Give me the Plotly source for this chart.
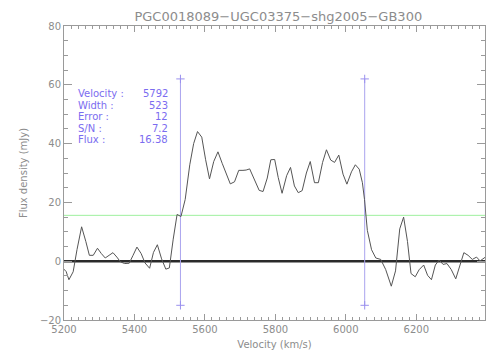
import plotly.graph_objects as go

# spectrum (velocity in km/s, flux in mJy)
velocity = [
    5197, 5206, 5214, 5226, 5237, 5250, 5262, 5272, 5283, 5295, 5306, 5317,
    5328, 5339, 5350, 5360, 5372, 5385, 5396, 5407, 5419, 5430, 5443, 5454,
    5465, 5477, 5489, 5499, 5510, 5521, 5532, 5544, 5557, 5568, 5579, 5591,
    5602, 5613, 5625, 5637, 5649, 5660, 5672, 5684, 5696, 5708, 5717, 5727,
    5741, 5754, 5765, 5777, 5787, 5798, 5808, 5819, 5832, 5843, 5854, 5865,
    5876, 5888, 5899, 5911, 5922, 5934, 5945, 5957, 5968, 5980, 5992, 6003,
    6016, 6027, 6038, 6047, 6053, 6061, 6073, 6085, 6099, 6113, 6129, 6141,
    6153, 6164, 6175, 6185, 6197, 6208, 6221, 6232, 6243, 6254, 6265, 6276,
    6287, 6299, 6312, 6324, 6335, 6347, 6359, 6371, 6381, 6395,
]
flux = [
    -2.4, -3.5, -6.3, -3.6, 4.0, 11.7, 6.7, 2.0, 2.0, 4.4, 2.6, 1.1,
    2.0, 2.9, 1.4, -0.2, -0.8, -0.7, 2.0, 4.8, 2.6, -0.6, -2.4, 3.0,
    5.6, 0.8, -2.7, -2.3, 7.5, 15.9, 15.2, 21.0, 32.8, 40.0, 44.1, 42.2,
    34.5, 28.0, 33.9, 37.2, 33.3, 29.8, 26.3, 27.0, 30.9, 30.9, 31.0, 31.4,
    27.5, 24.1, 23.7, 28.3, 34.5, 34.6, 28.5, 23.1, 29.1, 31.9, 25.6, 23.3,
    24.0, 30.0, 33.9, 26.7, 26.7, 33.6, 37.9, 34.4, 33.6, 36.1, 29.6, 26.2,
    30.4, 32.8, 31.3, 26.7, 21.0, 10.5, 3.9, 1.1, 0.6, -2.8, -8.5, -3.3,
    11.0, 15.0, 6.7, -4.2, -5.3, -2.9, -1.3, -4.8, -6.3, -1.3, 0.4, -1.1,
    -0.8, -2.8, -6.0, -1.1, 2.9, 2.0, 0.6, 1.4, 0.1, 1.3,
]

title = 'PGC0018089\u2212UGC03375\u2212shg2005\u2212GB300'
stat_labels = ['Velocity :', 'Width :', 'Error :', 'S/N :', 'Flux :']
stat_values = ['5792', '523', '12', '7.2', '16.38']

v_center = 5792
v_width = 523
level = 15.6
marker_span = [-15, 62]

x_range = [5200, 6395]
y_range = [-20, 80]

grey = '#8c8c8c'
blue = '#7b6cf0'
font = 'DejaVu Sans'

fig = go.Figure()

# reference level
fig.add_trace(go.Scatter(
    x=x_range, y=[level, level], mode='lines',
    line=dict(color='#9ef09e', width=1), hoverinfo='skip',
))

# zero line
fig.add_trace(go.Scatter(
    x=x_range, y=[0, 0], mode='lines',
    line=dict(color='#2a2a2a', width=2.5), hoverinfo='skip',
))

# line edges at velocity +/- width/2
for edge in (v_center - v_width / 2, v_center + v_width / 2):
    fig.add_trace(go.Scatter(
        x=[edge, edge], y=marker_span, mode='lines+markers',
        line=dict(color='#a9a3ee', width=1),
        marker=dict(symbol='cross-thin', size=6,
                    line=dict(color='#9a90ee', width=1)),
        hoverinfo='skip',
    ))

fig.add_trace(go.Scatter(
    x=velocity, y=flux, mode='lines',
    line=dict(color='#555555', width=1),
))

ys = [0.771, 0.731, 0.691, 0.653, 0.615]
for lab, val, y in zip(stat_labels, stat_values, ys):
    fig.add_annotation(x=0.029, y=y, xref='paper', yref='paper', text=lab,
                       showarrow=False, xanchor='left', yanchor='middle',
                       font=dict(color=blue, size=10, family=font))
    fig.add_annotation(x=0.252, y=y, xref='paper', yref='paper', text=val,
                       showarrow=False, xanchor='right', yanchor='middle',
                       font=dict(color=blue, size=10, family=font))

axis = dict(
    showline=True, linecolor='#9a9a9a', linewidth=1, mirror='ticks',
    ticks='inside', tickcolor='#9a9a9a', showgrid=False, zeroline=False,
    tickfont=dict(color=grey, size=10, family=font),
)

# page body adds an 8px offset, so the figure is drawn 8px smaller
fig.update_layout(
    width=496, height=352,
    margin=dict(l=56, r=19, t=12, b=40),
    paper_bgcolor='white', plot_bgcolor='white',
    showlegend=False,
    title=dict(text=title, x=0.545, xanchor='center', y=0.99, yanchor='top',
               font=dict(color=grey, size=13, family=font)),
    xaxis=dict(
        axis, range=x_range, dtick=200, tick0=5200, ticklen=6,
        minor=dict(dtick=20, ticklen=3, ticks='inside', tickcolor='#9a9a9a'),
        title=dict(text='Velocity (km/s)', standoff=6,
                   font=dict(color=grey, size=10, family=font)),
    ),
    yaxis=dict(
        axis, range=y_range, dtick=20, ticklen=8,
        minor=dict(dtick=5, ticklen=4, ticks='inside', tickcolor='#9a9a9a'),
        title=dict(text='Flux density (mJy)', standoff=10,
                   font=dict(color=grey, size=10, family=font)),
    ),
)

fig.write_html('out.html')
